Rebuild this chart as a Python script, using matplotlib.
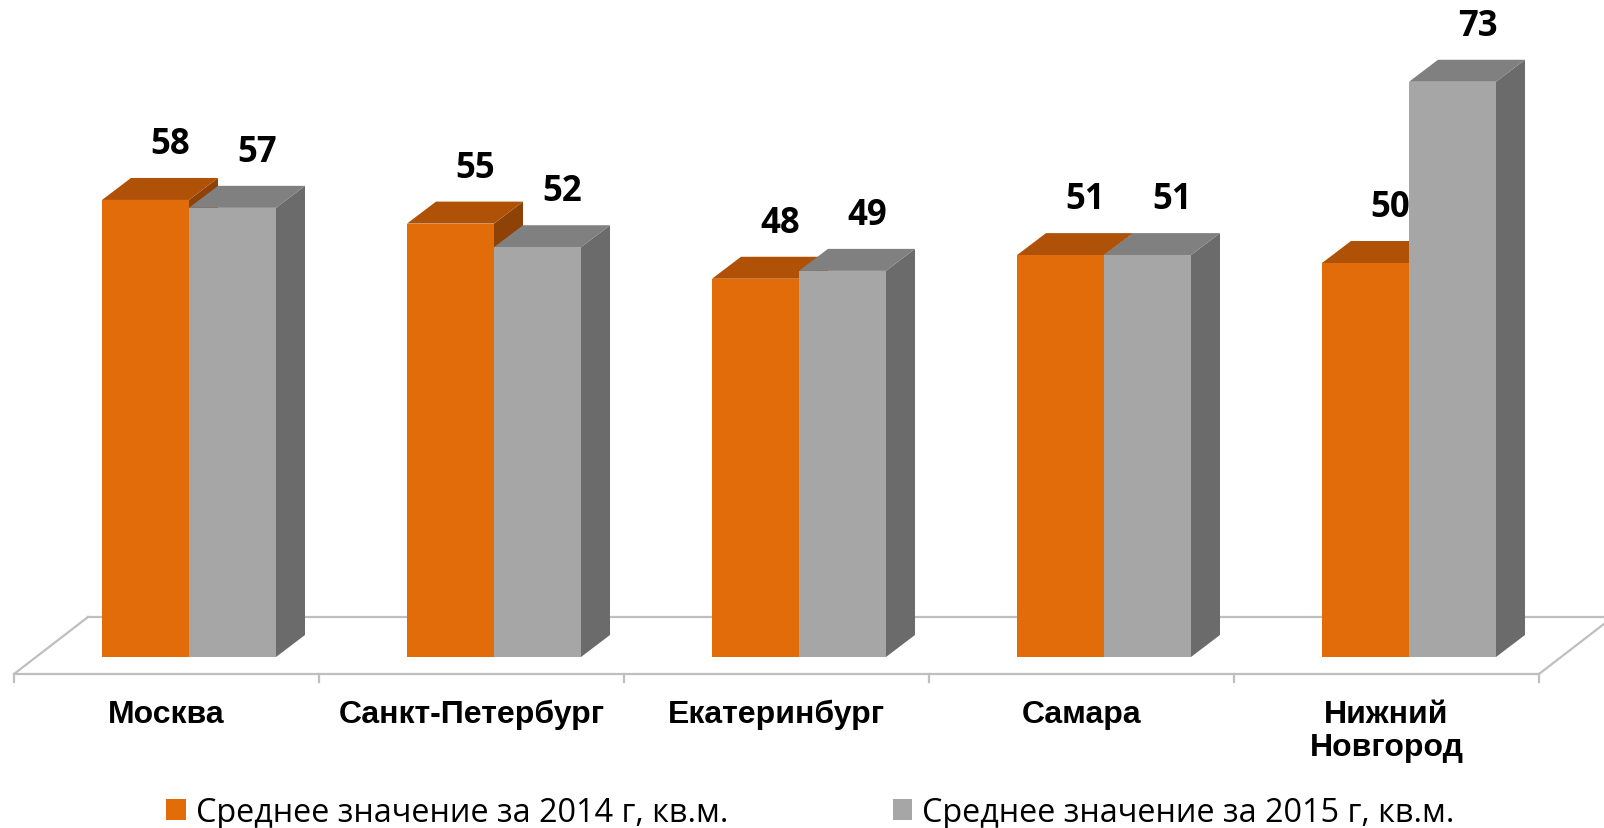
import matplotlib.pyplot as plt
from matplotlib.patches import Polygon

# данные
cities = ["Москва", "Санкт-Петербург", "Екатеринбург", "Самара", "Нижний\nНовгород"]
avg_2014 = [58, 55, 48, 51, 50]
avg_2015 = [57, 52, 49, 51, 73]
series_names = ["Среднее значение за 2014 г, кв.м.", "Среднее значение за 2015 г, кв.м."]

W, H = 1604, 829
SX = 305.0   # px на категорию
SY = 7.88    # px на единицу значения
Y0 = 658     # px (сверху) нулевого уровня передней грани

fig = plt.figure(figsize=(W / 100, H / 100), dpi=100)
ax = fig.add_axes([0, 0, 1, 1])
ax.set_xlim(-166.5 / SX, (W - 166.5) / SX)
ax.set_ylim(-(H - Y0) / SY, Y0 / SY)
ax.axis("off")

px = 1 / SX
py = 1 / SY
ddx, ddy = 29 * px, 22 * py   # глубина столбика
w = 87 * px
shift = 22.5 * px

# "пол" диаграммы
floor_c = "#BFBFBF"
yf, yb = -17 * py, 40 * py
fx = 74 * px
n = len(cities)
ax.plot([-0.5, n - 0.5], [yf, yf], color=floor_c, lw=1.6, zorder=1)
ax.plot([-0.5 + fx, ax.get_xlim()[1]], [yb, yb], color=floor_c, lw=1.6, zorder=1)
ax.plot([-0.5, -0.5 + fx], [yf, yb], color=floor_c, lw=1.6, zorder=1)
ax.plot([n - 0.5, n - 0.5 + fx], [yf, yb], color=floor_c, lw=1.6, zorder=1)
for k in range(n + 1):
    ax.plot([k - 0.5, k - 0.5], [yf, yf - 8 * py], color=floor_c, lw=1.6, zorder=1)

colors = [("#E36C0A", "#AF5208", "#8F4205"), ("#A6A6A6", "#808080", "#6B6B6B")]


def box(x0, v, cols, z):
    front, top, side = cols
    sd = Polygon([(x0 + w, 0), (x0 + w + ddx, ddy), (x0 + w + ddx, v + ddy), (x0 + w, v)],
                 closed=True, fc=side, ec="none", zorder=z)
    tp = Polygon([(x0, v), (x0 + ddx, v + ddy), (x0 + w + ddx, v + ddy), (x0 + w, v)],
                 closed=True, fc=top, ec="none", zorder=z)
    return sd, tp


handles = []
for s, vals in enumerate([avg_2014, avg_2015]):
    lefts = [i + shift - w + s * w for i in range(n)]
    for i, (x0, v) in enumerate(zip(lefts, vals)):
        z = 2 + i * 10 + s * 5
        sd, tp = box(x0, v, colors[s], z)
        ax.add_patch(sd)
        ax.add_patch(tp)
        b = ax.bar(x0, v, width=w, align="edge", color=colors[s][0], zorder=z + 1)
        if i == 0:
            handles.append(b)
        ax.text(x0 + w / 2 + 25 * px, v + ddy + 34 * py, str(v), ha="center", va="center",
                fontsize=25, fontweight="bold", family="Open Sans", zorder=100)

for i, c in enumerate(cities):
    ax.text(i, -(700 - Y0) * py, c, ha="center", va="top", fontsize=23, fontweight="bold",
            family="Liberation Sans", linespacing=1.15)

ax.legend(handles=handles, labels=series_names, loc="lower center", bbox_to_anchor=(0.5053, -0.036),
          ncol=2, frameon=False, prop={"family": "Open Sans", "size": 23.3},
          handlelength=0.6, handleheight=0.6, handletextpad=0.3, columnspacing=5.1)

fig.savefig("out.png", dpi=100)
